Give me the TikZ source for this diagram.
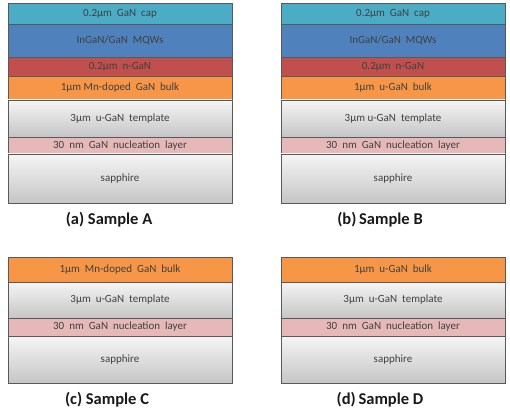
\documentclass[tikz,border=0pt]{standalone}
\usepackage{fontspec}
\setmainfont{Carlito}
\usepackage{tikz}
\usetikzlibrary{positioning}
\definecolor{capcol}{RGB}{75,172,198}
\definecolor{mqwcol}{RGB}{79,129,189}
\definecolor{ngancol}{RGB}{192,80,77}
\definecolor{bulkcol}{RGB}{247,150,70}
\definecolor{nuclcol}{RGB}{230,185,184}
\begin{document}
\begin{tikzpicture}[
    x=1pt, y=1pt,
    layer/.style={draw=black!65, line width=0.6pt, minimum width=224pt,
      inner sep=0pt, outer sep=0pt, text=black!75,
      font=\fontsize{11}{12}\selectfont},
    grey layer/.style={layer, top color=gray!8, bottom color=gray!45},
    caption/.style={font=\fontsize{16.5}{19}\selectfont\bfseries, text=black!90},
  ]
  \useasboundingbox (0,0) rectangle (510,418);
  % echantillon A
  \node[layer, fill=capcol, minimum height=20.5pt, anchor=north west] (capA) at (8,414.5) {0.2µm~ GaN~ cap};
  \node[layer, fill=mqwcol, minimum height=33pt, below=0pt of capA] (mqwA) {InGaN/GaN~ MQWs};
  \node[layer, fill=ngancol, minimum height=19pt, below=0pt of mqwA] (nganA) {0.2µm~ n-GaN};
  \node[layer, fill=bulkcol, minimum height=24pt, below=0pt of nganA] (bulkA) {1µm Mn-doped~ GaN~ bulk};
  \node[grey layer, minimum height=37pt, below=0pt of bulkA] (tempA) {3µm~ u-GaN~ template};
  \node[layer, fill=nuclcol, minimum height=17pt, below=0pt of tempA] (nuclA) {30~ nm~ GaN~ nucleation~ layer};
  \node[grey layer, minimum height=49pt, below=0pt of nuclA] (saphA) {sapphire};
  \node[caption] (capaA) at (109,198) {(a) Sample A};
  % echantillon B
  \node[layer, fill=capcol, minimum height=20.5pt, anchor=north west] (capB) at (281,414.5) {0.2µm~ GaN~ cap};
  \node[layer, fill=mqwcol, minimum height=33pt, below=0pt of capB] (mqwB) {InGaN/GaN~ MQWs};
  \node[layer, fill=ngancol, minimum height=19pt, below=0pt of mqwB] (nganB) {0.2µm~ n-GaN};
  \node[layer, fill=bulkcol, minimum height=24pt, below=0pt of nganB] (bulkB) {1µm~ u-GaN~ bulk};
  \node[grey layer, minimum height=37pt, below=0pt of bulkB] (tempB) {3µm u-GaN~ template};
  \node[layer, fill=nuclcol, minimum height=17pt, below=0pt of tempB] (nuclB) {30~ nm~ GaN~ nucleation~ layer};
  \node[grey layer, minimum height=49pt, below=0pt of nuclB] (saphB) {sapphire};
  \node[caption] (capaB) at (380,198) {(b)\,Sample B};
  % echantillon C
  \node[layer, fill=bulkcol, minimum height=25pt, anchor=north west] (bulkC) at (8,161) {1µm~ Mn-doped~ GaN~ bulk};
  \node[grey layer, minimum height=36pt, below=0pt of bulkC] (tempC) {3µm~ u-GaN~ template};
  \node[layer, fill=nuclcol, minimum height=18pt, below=0pt of tempC] (nuclC) {30~ nm~ GaN~ nucleation~ layer};
  \node[grey layer, minimum height=47pt, below=0pt of nuclC] (saphC) {sapphire};
  \node[caption] (capaC) at (107,18) {(c) Sample C};
  % echantillon D
  \node[layer, fill=bulkcol, minimum height=25pt, anchor=north west] (bulkD) at (281,161) {1µm~ u-GaN~ bulk};
  \node[grey layer, minimum height=36pt, below=0pt of bulkD] (tempD) {3µm~ u-GaN~ template};
  \node[layer, fill=nuclcol, minimum height=18pt, below=0pt of tempD] (nuclD) {30~ nm~ GaN~ nucleation~ layer};
  \node[grey layer, minimum height=47pt, below=0pt of nuclD] (saphD) {sapphire};
  \node[caption] (capaD) at (380,18) {(d)\,Sample D};
\end{tikzpicture}
\end{document}
